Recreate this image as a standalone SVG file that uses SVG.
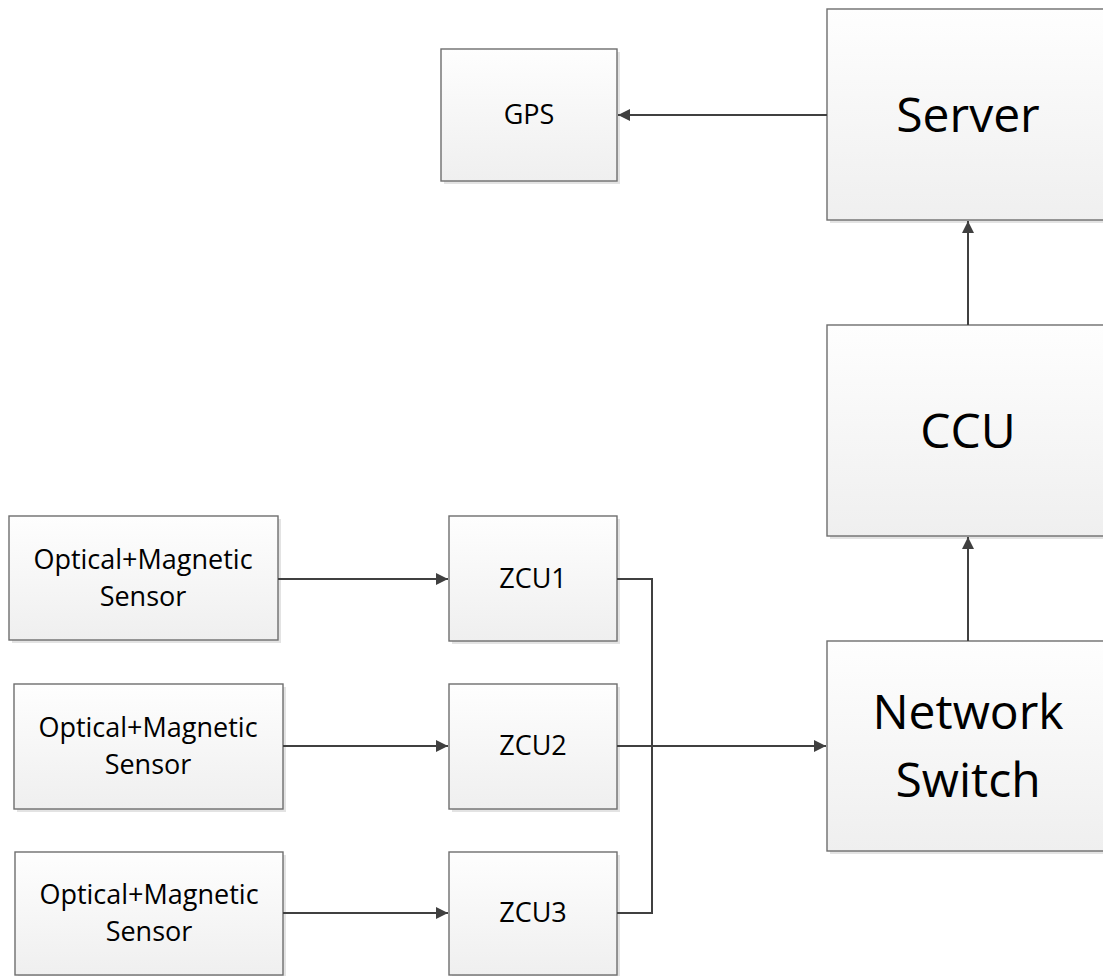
<svg xmlns="http://www.w3.org/2000/svg" width="1103" height="976" viewBox="0 0 1103 976">
<style>
.box{fill:url(#g);stroke:#6e6e6e;stroke-width:1.4}
.sh{fill:#e3e3e3}
.t{font-family:"Open Sans","Liberation Sans",sans-serif;font-size:27px;fill:#000;text-anchor:middle}
.big{font-size:48px}
.c{fill:none;stroke:#404040;stroke-width:2}
</style>
<defs>
<linearGradient id="g" x1="0" y1="0" x2="0" y2="1">
<stop offset="0" stop-color="#fefefe"/>
<stop offset="1" stop-color="#efefef"/>
</linearGradient>
<marker id="a" markerUnits="userSpaceOnUse" markerWidth="13" markerHeight="12" refX="12" refY="6" orient="auto">
<path d="M0,0 L12,6 L0,12 z" fill="#404040"/>
</marker>
</defs>
<g id="gps"><rect class="sh" x="444" y="52" width="176" height="132"/><rect class="box" x="441" y="49" width="176" height="132"/><text class="t" x="529" y="124">GPS</text></g>
<g id="server"><rect class="sh" x="830" y="12" width="282" height="211"/><rect class="box" x="827" y="9" width="282" height="211"/><text class="t big" x="968" y="132">Server</text></g>
<g id="ccu"><rect class="sh" x="830" y="328" width="282" height="211"/><rect class="box" x="827" y="325" width="282" height="211"/><text class="t big" x="968" y="448">CCU</text></g>
<g id="switch"><rect class="sh" x="830" y="644" width="282" height="210"/><rect class="box" x="827" y="641" width="282" height="210"/><text class="t big" x="968" y="729">Network</text><text class="t big" x="968" y="797">Switch</text></g>
<g id="sensor1"><rect class="sh" x="12" y="519" width="269" height="124"/><rect class="box" x="9" y="516" width="269" height="124"/><text class="t" x="143" y="569">Optical+Magnetic</text><text class="t" x="143" y="606">Sensor</text></g>
<g id="sensor2"><rect class="sh" x="17" y="687" width="269" height="125"/><rect class="box" x="14" y="684" width="269" height="125"/><text class="t" x="148" y="737">Optical+Magnetic</text><text class="t" x="148" y="774">Sensor</text></g>
<g id="sensor3"><rect class="sh" x="18" y="855" width="268" height="123"/><rect class="box" x="15" y="852" width="268" height="123"/><text class="t" x="149" y="904">Optical+Magnetic</text><text class="t" x="149" y="941">Sensor</text></g>
<g id="zcu1"><rect class="sh" x="452" y="519" width="168" height="125"/><rect class="box" x="449" y="516" width="168" height="125"/><text class="t" x="533" y="588">ZCU1</text></g>
<g id="zcu2"><rect class="sh" x="452" y="687" width="168" height="125"/><rect class="box" x="449" y="684" width="168" height="125"/><text class="t" x="533" y="755">ZCU2</text></g>
<g id="zcu3"><rect class="sh" x="452" y="855" width="168" height="123"/><rect class="box" x="449" y="852" width="168" height="123"/><text class="t" x="533" y="922">ZCU3</text></g>
<g id="connectors">
<path class="c" d="M827,115 H618" marker-end="url(#a)"/>
<path class="c" d="M968,325 V221" marker-end="url(#a)"/>
<path class="c" d="M968,641 V537" marker-end="url(#a)"/>
<path class="c" d="M278,579 H448" marker-end="url(#a)"/>
<path class="c" d="M283,746 H448" marker-end="url(#a)"/>
<path class="c" d="M283,913 H448" marker-end="url(#a)"/>
<path class="c" d="M617,579 H652 V913 H617"/>
<path class="c" d="M617,746 H826" marker-end="url(#a)"/>
</g>
</svg>
